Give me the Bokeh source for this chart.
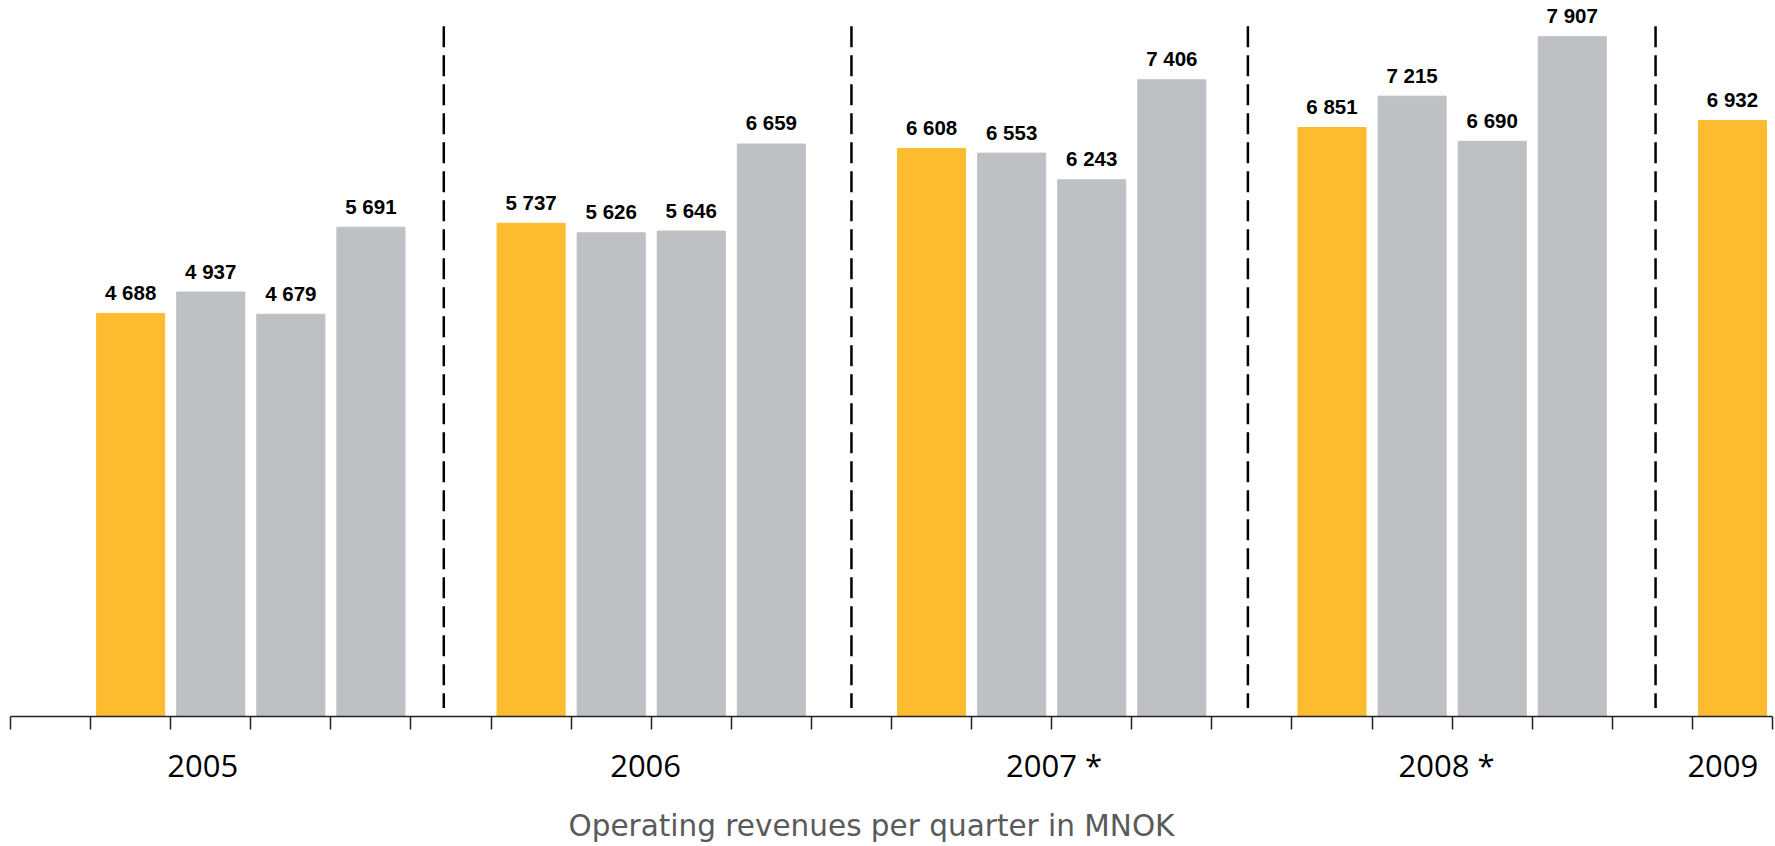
from bokeh.plotting import figure
from bokeh.models import Range1d, LinearAxis, FixedTicker, ColumnDataSource
from bokeh.core.properties import value
from bokeh.embed import file_html
from bokeh.resources import INLINE

# ---- data ----
years = ["2005", "2006", "2007 *", "2008 *", "2009"]
rev_2005 = [4688, 4937, 4679, 5691]
rev_2006 = [5737, 5626, 5646, 6659]
rev_2007 = [6608, 6553, 6243, 7406]
rev_2008 = [6851, 7215, 6690, 7907]
rev_2009 = [6932]
caption = "Operating revenues per quarter in MNOK"

# ---- layout constants ----
slots_per_group = 5
n_slots = 22
year_label_pos = [2.4, 7.93, 13.03, 17.93, 21.38]
separator_x = [5.41, 10.5, 15.45, 20.54]
caption_pos = 10.75
y_max = 8328

YELLOW = "#FDBB30"
GRAY = "#BFC0C4"

groups = [rev_2005, rev_2006, rev_2007, rev_2008, rev_2009]
xs, tops, colors, labels = [], [], [], []
for g, vals in enumerate(groups):
    for q, v in enumerate(vals):
        xs.append(1 + slots_per_group * g + q + 0.5)
        tops.append(v)
        colors.append(YELLOW if q == 0 else GRAY)
        labels.append(f"{v:,}".replace(",", " "))

src = ColumnDataSource(dict(x=xs, top=tops, color=colors, label=labels))

p = figure(width=1775, height=846, output_backend="svg", toolbar_location=None,
           x_range=Range1d(0, n_slots), y_range=Range1d(0, y_max),
           min_border_left=10, min_border_right=3, min_border_top=0,
           min_border_bottom=130, x_axis_location=None, y_axis_location=None)
p.outline_line_color = None
p.xgrid.visible = False
p.ygrid.visible = False
p.background_fill_color = "white"
p.border_fill_color = "white"

p.vbar(x="x", top="top", bottom=0, width=0.85, color="color", source=src)
p.text(x="x", y="top", text="label", source=src, text_align="center",
       text_baseline="alphabetic", y_offset=-21,
       text_font=value("Liberation Sans"), text_font_style="bold",
       text_font_size="20.5px", text_color="black")

sep_top = y_max * 0.964
sep_bot = y_max * 0.012
p.segment(x0=separator_x, y0=[sep_top] * len(separator_x),
          x1=separator_x, y1=[sep_bot] * len(separator_x),
          line_color="black", line_width=2.5, line_dash="21 8")

# tick axis (quarter boundaries)
ax1 = LinearAxis(ticker=FixedTicker(ticks=list(range(n_slots + 1))))
ax1.major_label_overrides = {i: "" for i in range(n_slots + 1)}
ax1.major_label_text_font_size = "1px"
ax1.major_label_standoff = 0
ax1.major_tick_out = 13
ax1.major_tick_in = 0
ax1.minor_tick_out = 0
ax1.minor_tick_in = 0
ax1.axis_line_color = "#222222"
ax1.axis_line_width = 1.5
ax1.major_tick_line_color = "#222222"
ax1.major_tick_line_width = 1.5
p.add_layout(ax1, "below")

# year label axis
ax2 = LinearAxis(ticker=FixedTicker(ticks=year_label_pos))
ax2.major_label_overrides = {pos: lab for pos, lab in zip(year_label_pos, years)}
ax2.major_label_text_font = "Open Sans"
ax2.major_label_text_font_size = "31px"
ax2.major_label_text_color = "black"
ax2.major_label_standoff = 14
ax2.major_tick_out = 0
ax2.major_tick_in = 0
ax2.minor_tick_out = 0
ax2.minor_tick_in = 0
ax2.axis_line_color = None
p.add_layout(ax2, "below")

# caption axis
ax3 = LinearAxis(ticker=FixedTicker(ticks=[caption_pos]))
ax3.major_label_overrides = {caption_pos: caption}
ax3.major_label_text_font = "DejaVu Sans"
ax3.major_label_text_font_size = "29.5px"
ax3.major_label_text_color = "#5A5A5A"
ax3.major_label_standoff = 20
ax3.major_tick_out = 0
ax3.major_tick_in = 0
ax3.minor_tick_out = 0
ax3.minor_tick_in = 0
ax3.axis_line_color = None
p.add_layout(ax3, "below")

open("out.html", "w").write(file_html(p, INLINE))
